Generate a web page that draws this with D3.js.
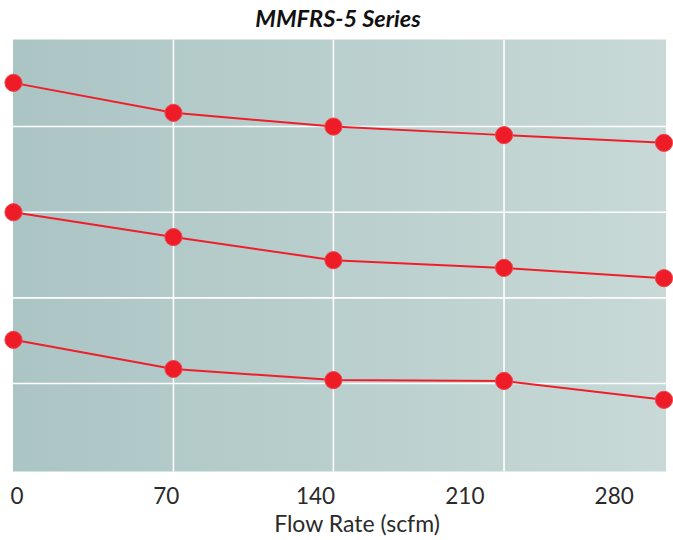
<!DOCTYPE html>
<html>
<head>
<meta charset="utf-8">
<script src="https://cdn.jsdelivr.net/npm/d3@7/dist/d3.min.js"></script>
<style>
  html, body { margin: 0; padding: 0; background: #fff; }
  svg { display: block; }
</style>
</head>
<body>
<svg id="chart" width="673" height="540"></svg>
<script>
// ---- data ----
const title = "MMFRS-5 Series";
const xAxisTitle = "Flow Rate (scfm)";
const flowRates = [0, 75, 150, 230, 305];
const tickLabels = [0, 70, 140, 210, 280];
const seriesTop = [4.51, 4.16, 4.00, 3.90, 3.81];
const seriesMiddle = [3.00, 2.71, 2.44, 2.35, 2.23];
const seriesBottom = [1.51, 1.17, 1.04, 1.03, 0.81];
const yGridValues = [1, 2, 3, 4];
const allSeries = [seriesTop, seriesMiddle, seriesBottom];

// ---- layout ----
const svg = d3.select("#chart");
const plot = { left: 13, right: 666, top: 39.5, bottom: 471.5 };

const x = d3.scaleLinear().domain([0, 305]).range([13.5, 664]);
const y = d3.scaleLinear().domain([0, 5]).range([469.2, 40.9]);

const defs = svg.append("defs");
const grad = defs.append("linearGradient").attr("id", "bg")
  .attr("x1", "0%").attr("x2", "100%").attr("y1", "0%").attr("y2", "0%");
grad.append("stop").attr("offset", "0%").attr("stop-color", "#abc5c4");
grad.append("stop").attr("offset", "100%").attr("stop-color", "#c8d9d7");

svg.append("rect")
  .attr("x", plot.left).attr("y", plot.top)
  .attr("width", plot.right - plot.left).attr("height", plot.bottom - plot.top)
  .attr("fill", "url(#bg)");

// horizontal grid
svg.append("g").selectAll("line").data(yGridValues).join("line")
  .attr("x1", plot.left).attr("x2", plot.right)
  .attr("y1", d => y(d)).attr("y2", d => y(d))
  .attr("stroke", "#ffffff").attr("stroke-width", 1.6);

// vertical grid at interior flow rates
svg.append("g").selectAll("line").data(flowRates.slice(1, -1)).join("line")
  .attr("x1", d => x(d)).attr("x2", d => x(d))
  .attr("y1", plot.top).attr("y2", plot.bottom)
  .attr("stroke", "#ffffff").attr("stroke-width", 1.6);

// lines
const line = d3.line().x((d, i) => x(flowRates[i])).y(d => y(d));
svg.append("g").selectAll("path").data(allSeries).join("path")
  .attr("d", d => line(d))
  .attr("fill", "none").attr("stroke", "#ee1f2b").attr("stroke-width", 2);

// points
allSeries.forEach(s => {
  svg.append("g").selectAll("circle").data(s).join("circle")
    .attr("cx", (d, i) => x(flowRates[i])).attr("cy", d => y(d))
    .attr("r", 8.6)
    .attr("fill", "#ee1c27").attr("stroke", "#f04550").attr("stroke-width", 1);
});

// x axis tick labels
const xAxis = d3.axisBottom(x).tickValues(tickLabels).tickSize(0).tickPadding(0)
  .tickFormat(d3.format("d"));
const gx = svg.append("g").attr("transform", "translate(3,489)").call(xAxis);
gx.select(".domain").remove();
gx.selectAll("text")
  .attr("fill", "#2a2a2a").attr("font-family", "Lato, 'Open Sans', sans-serif")
  .attr("font-size", 22.5).attr("dy", "0.66em");

// axis title
svg.append("text")
  .attr("x", 357).attr("y", 532)
  .attr("text-anchor", "middle")
  .attr("font-family", "Lato, 'Open Sans', sans-serif").attr("font-size", 23)
  .attr("fill", "#2a2a2a")
  .text(xAxisTitle);

// chart title
svg.append("text")
  .attr("x", 338).attr("y", 27)
  .attr("text-anchor", "middle")
  .attr("font-family", "Lato, 'Open Sans', sans-serif").attr("font-size", 23.5)
  .attr("font-weight", "bold").attr("font-style", "italic")
  .attr("fill", "#111")
  .text(title);
</script>
</body>
</html>
